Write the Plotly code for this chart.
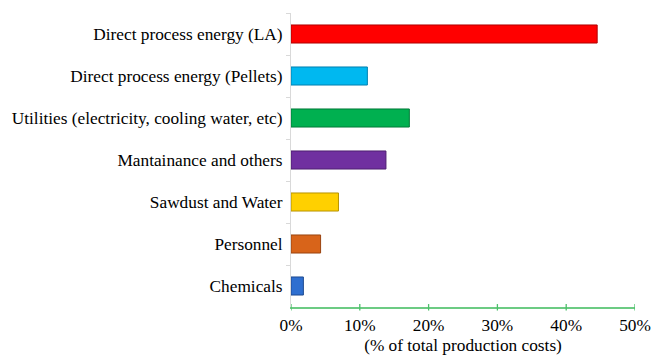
import plotly.graph_objects as go

# Share of total production costs by cost item
categories = [
    "Direct process energy (LA)",
    "Direct process energy (Pellets)",
    "Utilities (electricity, cooling water, etc)",
    "Mantainance and others",
    "Sawdust and Water",
    "Personnel",
    "Chemicals",
]
shares = [44.5, 11.1, 17.2, 13.8, 6.9, 4.3, 1.8]
bar_colors = ["#FF0000", "#00B8F0", "#00B050", "#7030A0", "#FFD000", "#D8641A", "#2E6FD0"]
edge_colors = ["#B00000", "#0080B0", "#007A38", "#4E1F70", "#B89400", "#9A4410", "#1E4A90"]
x_ticks = [0, 10, 20, 30, 40, 50]
x_tick_labels = ["0%", "10%", "20%", "30%", "40%", "50%"]

font_family = "Liberation Serif, Times New Roman, serif"

fig = go.Figure(
    go.Bar(
        x=shares,
        y=categories,
        orientation="h",
        width=0.43,
        marker=dict(color=bar_colors, line=dict(color=edge_colors, width=1)),
    )
)

# cross-style tick marks on the value axis
for t in x_ticks:
    fig.add_shape(
        type="line", xref="x", yref="paper",
        x0=t, x1=t, y0=-0.012, y1=0.01,
        line=dict(color="#4CC06A", width=1.3),
    )

fig.update_layout(
    width=652,
    height=355,
    margin=dict(l=291, r=17, t=13, b=48),
    paper_bgcolor="white",
    plot_bgcolor="white",
    showlegend=False,
    font=dict(family=font_family, size=17.3, color="#000000"),
    xaxis=dict(
        range=[0, 50],
        tickvals=x_ticks,
        ticktext=x_tick_labels,
        showgrid=False,
        zeroline=False,
        showline=True,
        linecolor="#6CCB83",
        linewidth=1.5,
        ticks="",
        ticklabelstandoff=1,
        automargin=False,
        title=dict(text="(% of total production costs)", standoff=5,
                   font=dict(family=font_family, size=17.3)),
    ),
    yaxis=dict(
        categoryorder="array",
        categoryarray=categories,
        range=[6.5, -0.5],
        showgrid=False,
        zeroline=False,
        showline=True,
        linecolor="#D9D9D9",
        linewidth=1,
        ticks="outside",
        tickson="boundaries",
        ticklen=4,
        tickcolor="#D9D9D9",
        ticklabelstandoff=4,
        automargin=False,
    ),
)

fig.write_html("out.html")
